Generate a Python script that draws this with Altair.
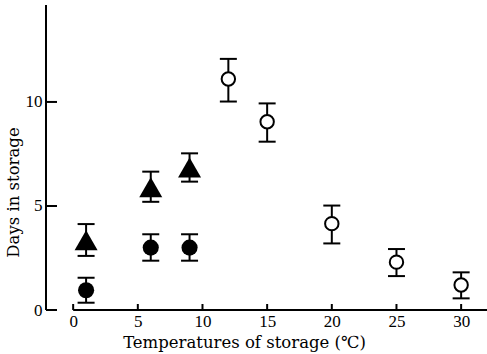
import altair as alt
import pandas as pd

# --- data ---
fc_temp = [1, 6, 9]
fc_mean = [0.95, 3.0, 3.0]
fc_low = [0.35, 2.37, 2.37]
fc_high = [1.55, 3.64, 3.64]

tr_temp = [1, 6, 9]
tr_mean = [3.35, 5.9, 6.85]
tr_low = [2.6, 5.2, 6.17]
tr_high = [4.13, 6.65, 7.53]

oc_temp = [12, 15, 20, 25, 30]
oc_mean = [11.1, 9.05, 4.15, 2.3, 1.2]
oc_low = [10.02, 8.09, 3.2, 1.63, 0.56]
oc_high = [12.07, 9.93, 5.02, 2.93, 1.81]

x_ticks = [0, 5, 10, 15, 20, 25, 30]
y_ticks = [0, 5, 10]
X_MIN, X_MAX = -2.1, 32
Y_MIN, Y_MAX = 0, 14.66

FONT = "Liberation Serif"
TFONT = "DejaVu Serif"

def frame(t, m, lo, hi):
    return pd.DataFrame({"temp": t, "mean": m, "low": lo, "high": hi})

fc = frame(fc_temp, fc_mean, fc_low, fc_high)
tr = frame(tr_temp, tr_mean, tr_low, tr_high)
oc = frame(oc_temp, oc_mean, oc_low, oc_high)
allpts = pd.concat([fc, tr, oc])

xs = alt.Scale(domain=[X_MIN, X_MAX], nice=False, zero=False)
ys = alt.Scale(domain=[Y_MIN, Y_MAX], nice=False, zero=False)

xaxis = alt.Axis(values=x_ticks, domain=False, ticks=False, grid=False,
                 labelFont=FONT, labelFontSize=17, labelPadding=3, labelColor="black",
                 title="Temperatures of storage (℃)", titleFont=TFONT, titleFontSize=16.5,
                 titleFontWeight="normal", titleColor="black",
                 titleX=198, titleY=37, titleBaseline="alphabetic", titleAnchor="middle")
yaxis = alt.Axis(values=y_ticks, domain=False, ticks=False, grid=False,
                 labelFont=FONT, labelFontSize=17, labelPadding=4, labelColor="black",
                 labelBaseline="middle",
                 title="Days in storage", titleFont=TFONT, titleFontSize=16.5,
                 titleFontWeight="normal", titleColor="black",
                 titleX=-28, titleY=187, titleAngle=270, titleBaseline="alphabetic",
                 titleAlign="center")

base_axes = alt.Chart(allpts).mark_point(opacity=0).encode(
    x=alt.X("temp:Q", scale=xs, axis=xaxis),
    y=alt.Y("mean:Q", scale=ys, axis=yaxis),
)

# axis lines
xline = alt.Chart(pd.DataFrame({"a": [0], "b": [X_MAX], "y": [0]})).mark_rule(
    color="black", strokeWidth=2).encode(
    x=alt.X("a:Q", scale=xs), x2="b:Q", y=alt.Y("y:Q", scale=ys))
yline = alt.Chart(pd.DataFrame({"x": [X_MIN], "a": [Y_MIN], "b": [Y_MAX]})).mark_rule(
    color="black", strokeWidth=2).encode(
    x=alt.X("x:Q", scale=xs), y=alt.Y("a:Q", scale=ys), y2="b:Q")

# inward ticks
xtick = alt.Chart(pd.DataFrame({"t": x_ticks})).mark_rule(
    color="black", strokeWidth=2).encode(
    x=alt.X("t:Q", scale=xs), y=alt.value(305), y2=alt.value(299))
ytick = alt.Chart(pd.DataFrame({"t": y_ticks})).mark_rule(
    color="black", strokeWidth=2).encode(
    y=alt.Y("t:Q", scale=ys), x=alt.value(0), x2=alt.value(11))

def errbars(df):
    stem = alt.Chart(df).mark_rule(color="black", strokeWidth=2).encode(
        x=alt.X("temp:Q", scale=xs), y=alt.Y("low:Q", scale=ys), y2="high:Q")
    lo = alt.Chart(df).mark_tick(color="black", orient="horizontal", size=17,
                                 thickness=2, opacity=1).encode(
        x=alt.X("temp:Q", scale=xs), y=alt.Y("low:Q", scale=ys))
    hi = alt.Chart(df).mark_tick(color="black", orient="horizontal", size=17,
                                 thickness=2, opacity=1).encode(
        x=alt.X("temp:Q", scale=xs), y=alt.Y("high:Q", scale=ys))
    return [stem, lo, hi]

fc_pts = alt.Chart(fc).mark_point(shape="circle", filled=True, color="black",
                                  size=260, opacity=1).encode(
    x=alt.X("temp:Q", scale=xs), y=alt.Y("mean:Q", scale=ys))
tr_pts = alt.Chart(tr).mark_point(shape="triangle-up", filled=True, color="black",
                                  size=529, opacity=1).encode(
    x=alt.X("temp:Q", scale=xs), y=alt.Y("mean:Q", scale=ys))
oc_pts = alt.Chart(oc).mark_point(shape="circle", filled=False, fill="white",
                                  fillOpacity=1, stroke="black", strokeWidth=2,
                                  size=180, opacity=1).encode(
    x=alt.X("temp:Q", scale=xs), y=alt.Y("mean:Q", scale=ys))

layers = [base_axes, xline, yline, xtick, ytick]
layers += errbars(fc) + errbars(tr) + errbars(oc)
layers += [fc_pts, tr_pts, oc_pts]

chart = alt.layer(*layers).properties(
    width=441, height=305,
    autosize=alt.AutoSizeParams(type="none"),
    padding={"left": 46, "top": 5, "right": 0, "bottom": 44},
    background="white",
).configure_view(stroke=None)

chart.save("out.html", embed_options={"renderer": "svg", "actions": False})
